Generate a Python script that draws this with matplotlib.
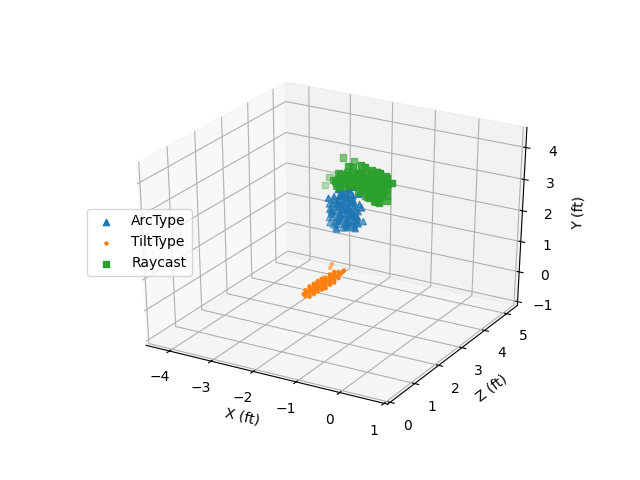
import numpy as np
import matplotlib
matplotlib.use("Agg")
import matplotlib.pyplot as plt

arc_x = [-1.66,-1.52,-1.37,-1.83,-1.68,-1.54,-1.40,-1.25,-1.87,-1.73,-1.59,-1.44,-1.30,-1.90,-1.75,-1.61,-1.47,-1.33,-1.18,-1.87,-1.73,-1.59,-1.44,-1.30,-1.16,-1.85,-1.71,-1.56,-1.42,-1.28,-1.14,-1.56,-1.37,
         -1.59,-1.45,-1.76,-1.61,-1.47,-1.33,-1.80,-1.66,-1.52,-1.37,-1.23,-1.83,-1.68,-1.54,-1.40,-1.26,-1.80,-1.66,-1.52,-1.37,-1.23,-1.78,-1.64,-1.49,-1.35,-1.21,
         -1.59,-1.45,-1.76,-1.61,-1.47,-1.33,-1.80,-1.66,-1.52,-1.37,-1.83,-1.68,-1.54,-1.40,-1.26,-1.80,-1.66,-1.52,-1.37,-1.23,-1.78,-1.64,-1.49,-1.35,-1.21,
         -1.68,-1.54,-1.40,-1.73,-1.59,-1.44,-1.30,-1.75,-1.61,-1.47,-1.33,-1.73,-1.59,-1.44,-1.30,-1.71,-1.56,-1.42,-1.28]
arc_y = [3.28,3.33,3.38,3.01,3.06,3.11,3.15,3.20,2.77,2.82,2.87,2.92,2.97,2.55,2.60,2.64,2.69,2.74,2.79,2.34,2.38,2.43,2.48,2.53,2.58,2.12,2.17,2.22,2.27,2.32,2.37,2.06,2.13,
         3.19,3.24,2.92,2.97,3.02,3.06,2.68,2.73,2.78,2.83,2.88,2.46,2.51,2.55,2.60,2.65,2.25,2.29,2.34,2.39,2.44,2.03,2.08,2.13,2.18,2.23,
         3.30,3.35,3.03,3.08,3.13,3.17,2.79,2.84,2.89,2.94,2.57,2.62,2.66,2.71,2.76,2.36,2.40,2.45,2.50,2.55,2.14,2.19,2.24,2.29,2.34,
         2.94,2.99,3.04,2.70,2.75,2.80,2.85,2.48,2.53,2.57,2.62,2.27,2.31,2.36,2.41,2.05,2.10,2.15,2.20]
arc_z = [2.7,2.6,2.8,2.6,2.8,2.7,2.6,2.8,2.7,2.9,2.6,2.8,2.7,2.9,2.6,2.8,2.7,2.6,2.8,2.7,2.9,2.6,2.8,2.7,2.6,2.9,2.7,2.8,2.6,2.7,2.8,2.9,3.0,
         2.7,2.8,2.7,2.6,2.8,2.7,2.6,2.8,2.7,2.6,2.8,2.7,2.8,2.6,2.7,2.8,2.6,2.7,2.8,2.6,2.7,2.8,2.6,2.7,2.8,2.6,
         2.7,2.7,2.7,2.7,2.7,2.7,2.7,2.7,2.7,2.7,2.7,2.7,2.7,2.7,2.7,2.7,2.7,2.7,2.7,2.7,2.7,2.7,2.7,2.7,2.7,
         2.7,2.7,2.7,2.7,2.7,2.7,2.7,2.7,2.7,2.7,2.7,2.7,2.7,2.7,2.7,2.7,2.7,2.7,2.7]

tilt_x = [-1.89,-1.86,-1.82,-1.79,-1.76,-1.72,-1.69,-1.66,-1.62,-1.59,-1.56,-1.52,-1.49,-1.46,-1.42,-1.39,-1.36,-1.32,-1.29,-1.26,-1.24,
          -1.86,-1.79,-1.72,-1.66,-1.59,-1.52,-1.46,-1.39,-1.32,
          -1.86,-1.79,-1.72,-1.66,-1.59,-1.52,-1.46,-1.39,-1.32,
          -1.79,-1.72,-1.66,-1.59,-1.52,-1.46,-1.39,
          -1.79,-1.72,-1.66,-1.59,-1.52,-1.46,-1.39,
          -2.15,-2.08,-1.91,-1.87]
tilt_y = [0.40,0.43,0.47,0.48,0.52,0.56,0.58,0.63,0.65,0.69,0.72,0.74,0.79,0.83,0.85,0.90,0.92,0.97,1.00,1.05,1.10,
          0.53,0.58,0.66,0.73,0.79,0.84,0.93,1.00,1.07,
          0.33,0.38,0.46,0.53,0.59,0.64,0.73,0.80,0.87,
          0.65,0.73,0.80,0.86,0.91,1.00,1.07,
          0.31,0.39,0.46,0.52,0.57,0.66,0.73,
          0.21,0.30,0.66,0.79]
tilt_z = [1.70,1.72,1.74,1.77,1.78,1.82,1.83,1.87,1.88,1.92,1.94,1.95,1.98,2.02,2.03,2.07,2.08,2.12,2.15,2.18,2.20,
          1.72,1.77,1.82,1.87,1.92,1.95,2.02,2.07,2.12,
          1.72,1.77,1.82,1.87,1.92,1.95,2.02,2.07,2.12,
          1.77,1.82,1.87,1.92,1.95,2.02,2.07,
          1.77,1.82,1.87,1.92,1.95,2.02,2.07,
          2.80,2.80,2.80,2.80]

ray_x = [-1.66,-1.51,-1.37,-1.23,-1.89,-1.75,-1.61,-1.47,-1.32,-1.18,-1.04,-0.89,-2.01,-1.87,-1.73,-1.58,-1.44,-1.30,-1.16,-1.01,-0.87,-0.73,-1.94,-1.80,-1.66,-1.51,-1.37,-1.23,-1.08,-0.94,-0.80,-0.66,-1.37,-1.23,-1.08,-0.94,-0.80,-1.27,-1.13,-0.99,-0.85,-1.04,-0.89,-2.08,-1.82,-2.49,-2.39,
         -1.82,-1.68,-1.54,-1.40,-1.25,-1.11,-0.97,-1.94,-1.80,-1.66,-1.51,-1.37,-1.23,-1.09,-0.94,-0.80,-1.30,-1.16,-1.01,-0.87,-0.73,-1.16,-1.01,-0.87,-0.73,-1.06,-0.92,-0.78,
         -1.82,-1.68,-1.54,-1.40,-1.25,-1.11,-0.97,-1.94,-1.80,-1.66,-1.51,-1.37,-1.23,-1.09,-0.94,-0.80,-1.87,-1.73,-1.58,-1.44,-1.30,-1.16,-1.01,-0.87,-0.73,-1.30,-1.16,-1.01,-0.87,-1.20,-1.06,-0.92,
         -1.75,-1.61,-1.47,-1.32,-1.18,-1.04,-1.87,-1.73,-1.58,-1.44,-1.30,-1.16,-1.01,-0.87]
ray_y = [3.82,3.86,3.91,3.96,3.52,3.56,3.61,3.66,3.71,3.76,3.81,3.86,3.29,3.34,3.38,3.43,3.48,3.53,3.58,3.63,3.68,3.73,3.13,3.17,3.22,3.27,3.32,3.37,3.42,3.47,3.51,3.56,3.13,3.18,3.23,3.28,3.32,2.98,3.03,3.07,3.12,2.87,2.92,3.73,3.70,2.76,3.04,
         3.43,3.47,3.52,3.57,3.62,3.67,3.72,3.20,3.25,3.29,3.34,3.39,3.44,3.49,3.54,3.59,3.23,3.28,3.33,3.38,3.42,3.04,3.09,3.14,3.19,2.89,2.94,2.98,
         3.54,3.58,3.63,3.68,3.73,3.78,3.83,3.31,3.36,3.40,3.45,3.50,3.55,3.60,3.65,3.70,3.15,3.19,3.24,3.29,3.34,3.39,3.44,3.49,3.53,3.15,3.20,3.25,3.30,3.00,3.05,3.09,
         3.45,3.49,3.54,3.59,3.64,3.69,3.22,3.27,3.31,3.36,3.41,3.46,3.51,3.56]
ray_z = [3.1,3.0,3.1,3.0,3.1,3.2,3.0,3.1,3.0,3.2,3.1,3.0,3.1,3.0,3.1,3.2,3.0,3.1,3.0,3.1,3.2,3.0,3.1,3.0,3.2,3.1,3.0,3.1,3.0,3.1,3.0,3.1,3.0,3.1,3.0,3.1,3.0,3.1,3.0,3.1,3.0,3.1,3.0,3.6,3.6,3.6,3.6,
         3.0,3.1,3.0,3.1,3.0,3.1,3.0,3.1,3.0,3.1,3.0,3.1,3.0,3.1,3.0,3.1,3.0,3.1,3.0,3.1,3.0,3.1,3.0,3.1,3.0,3.1,3.0,3.1,
         3.05,3.05,3.05,3.05,3.05,3.05,3.05,3.05,3.05,3.05,3.05,3.05,3.05,3.05,3.05,3.05,3.05,3.05,3.05,3.05,3.05,3.05,3.05,3.05,3.05,3.05,3.05,3.05,3.05,3.05,3.05,3.05,
         3.05,3.05,3.05,3.05,3.05,3.05,3.05,3.05,3.05,3.05,3.05,3.05,3.05,3.05]

fig = plt.figure(figsize=(6.4, 4.8), dpi=100)
ax = fig.add_subplot(projection='3d')
# The reference's 3D box fills the whole axes rectangle instead of a square panel
ax.apply_aspect = lambda position=None: None
ax.set_box_aspect((1, 1, 1), zoom=0.945)
ax.scatter(arc_x, arc_z, arc_y, marker='^', label='ArcType')
ax.scatter(tilt_x, tilt_z, tilt_y, marker='.', label='TiltType')
ax.scatter(ray_x, ray_z, ray_y, marker='s', label='Raycast')
ax.set_xlim(-4.57, 1.08)
ax.set_ylim(-0.1, 5.5)
ax.set_zlim(-1.13, 4.62)
ax.set_xlabel('X (ft)')
ax.set_ylabel('Z (ft)')
ax.set_zlabel('Y (ft)')
ax.set_xticks([-4,-3,-2,-1,0,1])
ax.set_yticks([0,1,2,3,4,5])
ax.set_zticks([-1,0,1,2,3,4])
ax.legend(loc='center left')
fig.savefig('out.png', dpi=100)
